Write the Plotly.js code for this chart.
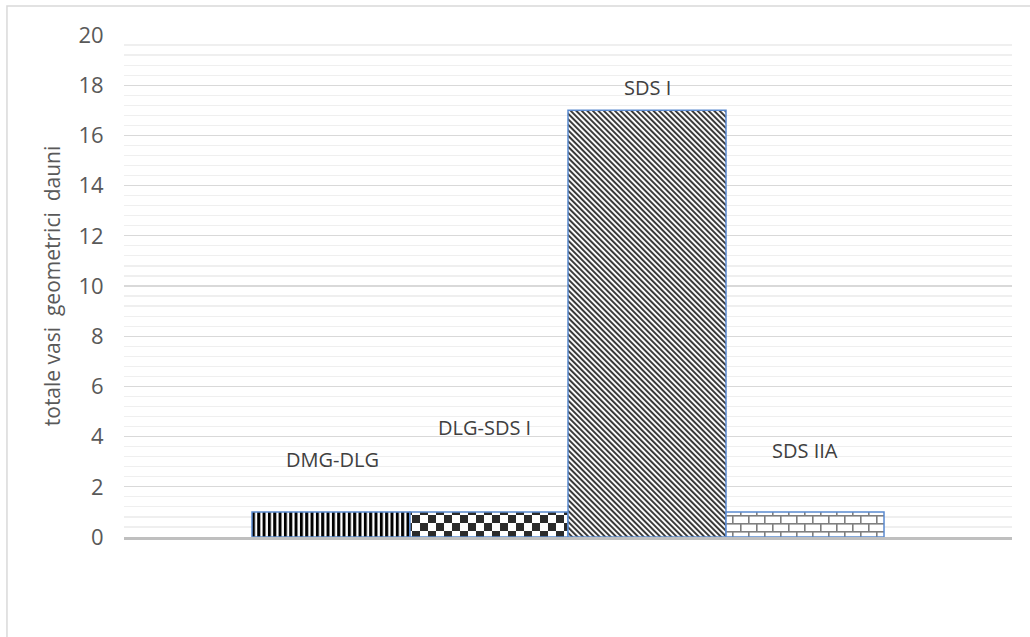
<!DOCTYPE html>
<html><head><meta charset="utf-8">
<script src="https://cdn.plot.ly/plotly-3.0.1.min.js"></script>
<style>html,body{margin:0;padding:0;background:#fff;}#chart{width:1030px;height:637px;}</style>
</head><body><div id="chart"></div>
<script>
const categories = ["DMG-DLG", "DLG-SDS I", "SDS I", "SDS IIA"];
const values = [1, 1, 17, 1];
const yTickValues = [0, 2, 4, 6, 8, 10, 12, 14, 16, 18, 20];
const yTitle = "totale vasi  geometrici  dauni";

// label placement (layout only)
const labelY = [3.07, 4.38, 17.89, 3.43];
const labelShift = [2, -5, 0, 0];
const patternIds = ["pVert", "pCheck", "pDiag", "pBrick"];

const data = [{
  type: "bar",
  x: categories,
  y: values,
  marker: {
    color: ["#000", "#333", "#444", "#888"],
    line: {color: "#5a8ad0", width: 1.5},
    pattern: {shape: ["|", "x", "\\", "+"], fgcolor: "#222", bgcolor: "#fff", solidity: 0.5}
  },
  hoverinfo: "none",
  showlegend: false
}];

const annotations = categories.map((c, i) => ({
  x: c, y: labelY[i], xref: "x", yref: "y", text: c, showarrow: false,
  xshift: labelShift[i],
  font: {family: "Open Sans, sans-serif", size: 20, color: "#404040"}
}));

const layout = {
  width: 1030, height: 637,
  margin: {l: 124, r: 18, t: 35, b: 100},
  paper_bgcolor: "#fff", plot_bgcolor: "#fff",
  bargap: 0,
  xaxis: {
    type: "category", range: [-1.31, 4.31], showticklabels: false, ticks: "",
    showgrid: false, zeroline: false, showline: true, linecolor: "#bfbfbf", linewidth: 3, fixedrange: true
  },
  yaxis: {
    range: [0, 20], tickvals: yTickValues, ticktext: yTickValues.map(String),
    ticks: "outside", ticklen: 15, tickcolor: "rgba(0,0,0,0)",
    tickfont: {family: "Open Sans, sans-serif", size: 22, color: "#595959"},
    showgrid: true, gridcolor: "#d9d9d9", gridwidth: 1.2,
    minor: {dtick: 0.4, showgrid: true, gridcolor: "#efefef", gridwidth: 1.2, ticks: ""},
    zeroline: false, showline: false,
    title: {text: yTitle, standoff: 12, font: {family: "Open Sans, sans-serif", size: 21, color: "#595959"}}
  },
  annotations: annotations,
  shapes: [{
    type: "rect", xref: "paper", yref: "paper", x0: -0.1318, x1: 1.3, y0: -0.5, y1: 1.0578,
    line: {color: "#d9d9d9", width: 1.5}, fillcolor: "rgba(0,0,0,0)", layer: "below"
  }]
};

const patternSvg =
  '<svg xmlns="http://www.w3.org/2000/svg"><defs>' +
  '<pattern id="pVert" patternUnits="userSpaceOnUse" width="5.33" height="8">' +
    '<rect width="5.33" height="8" fill="#fff"/><rect x="0" y="0" width="3" height="8" fill="#000"/></pattern>' +
  '<pattern id="pCheck" patternUnits="userSpaceOnUse" width="16" height="16">' +
    '<rect width="16" height="16" fill="#fff"/><rect x="0" y="0" width="8" height="8" fill="#2b2b2b"/>' +
    '<rect x="8" y="8" width="8" height="8" fill="#2b2b2b"/></pattern>' +
  '<pattern id="pDiag" patternUnits="userSpaceOnUse" width="3.9" height="10" patternTransform="rotate(-45)">' +
    '<rect width="3.9" height="10" fill="#fff"/><rect x="0" y="0" width="2" height="10" fill="#3a3a3a"/></pattern>' +
  '<pattern id="pBrick" patternUnits="userSpaceOnUse" width="16" height="16">' +
    '<rect width="16" height="16" fill="#fff"/>' +
    '<rect x="0" y="0" width="16" height="1.6" fill="#7f7f7f"/>' +
    '<rect x="0" y="8" width="16" height="1.6" fill="#7f7f7f"/>' +
    '<rect x="0" y="0" width="1.6" height="8" fill="#7f7f7f"/>' +
    '<rect x="8" y="8" width="1.6" height="8" fill="#7f7f7f"/></pattern>' +
  '</defs></svg>';

Plotly.newPlot("chart", data, layout, {staticPlot: true, displayModeBar: false}).then(gd => {
  const svg = gd.querySelector("svg.main-svg");
  const doc = new DOMParser().parseFromString(patternSvg, "image/svg+xml");
  let defs = svg.querySelector("defs");
  if (!defs) { defs = document.createElementNS("http://www.w3.org/2000/svg", "defs"); svg.insertBefore(defs, svg.firstChild); }
  doc.querySelectorAll("pattern").forEach(p => defs.appendChild(document.importNode(p, true)));
  const paths = gd.querySelectorAll(".barlayer .point path");
  paths.forEach((p, i) => { if (patternIds[i]) p.style.fill = "url(#" + patternIds[i] + ")"; });
});
</script>
</body></html>
